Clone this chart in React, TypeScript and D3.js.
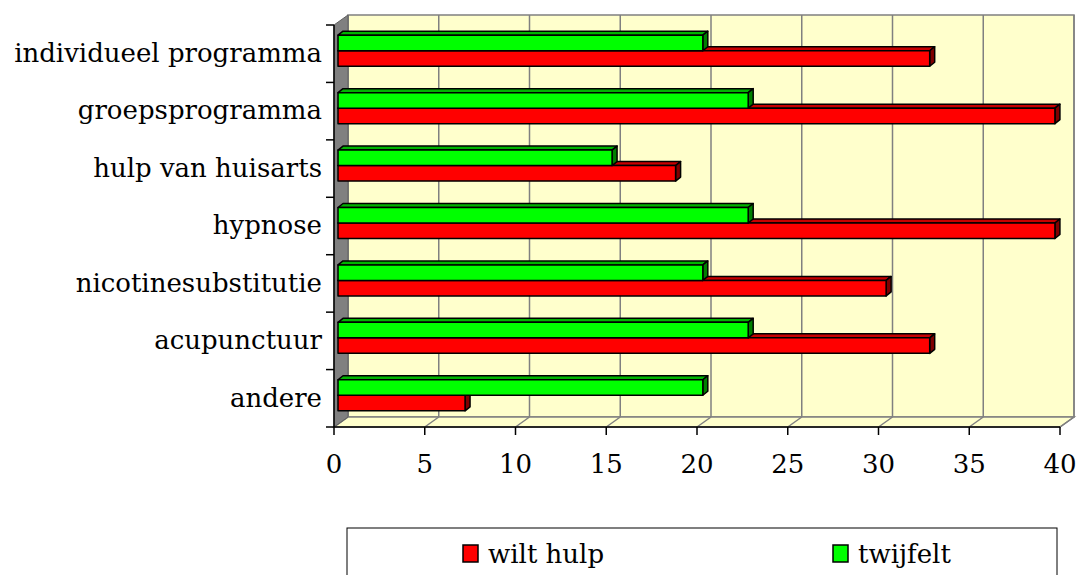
import React from 'react';
import {scaleLinear, scaleBand} from 'd3';

const categories = [
  'individueel programma',
  'groepsprogramma',
  'hulp van huisarts',
  'hypnose',
  'nicotinesubstitutie',
  'acupunctuur',
  'andere',
];
const wiltHulp = [32.6, 39.5, 18.6, 39.5, 30.2, 32.6, 7.0];
const twijfelt = [20.1, 22.6, 15.1, 22.6, 20.1, 22.6, 20.1];
const xTicks = [0, 5, 10, 15, 20, 25, 30, 35, 40];
const seriesNames = ['wilt hulp', 'twijfelt'];

const width = 1077;
const height = 575;
const font = '"DejaVu Serif", serif';
const fontSize = 26;

// front plane of the 3D box
const left = 334;
const right = 1060;
const top = 25;
const bottom = 427;
// wall depth
const wdx = 14;
const wdy = -10;
// bar offset into the box and bar depth
const bOffX = 4;
const bOffY = -3;
const bdx = 5;
const bdy = -4;

const colors = {
  red: {front: '#ff0000', top: '#c80000', side: '#800000'},
  green: {front: '#00ff00', top: '#00b400', side: '#008000'},
};

function Bar({x0, x1, y, h, c}) {
  const fx0 = x0 + bOffX;
  const fx1 = x1 + bOffX;
  const fy = y + bOffY;
  return (
    <g stroke="#000" strokeWidth={1.5} strokeLinejoin="round">
      <polygon
        points={`${fx0},${fy} ${fx0 + bdx},${fy + bdy} ${fx1 + bdx},${fy + bdy} ${fx1},${fy}`}
        fill={c.top}
      />
      <polygon
        points={`${fx1},${fy} ${fx1 + bdx},${fy + bdy} ${fx1 + bdx},${fy + h + bdy} ${fx1},${fy + h}`}
        fill={c.side}
      />
      <rect x={fx0} y={fy} width={fx1 - fx0} height={h} fill={c.front} />
    </g>
  );
}

export default function App() {
  const x = scaleLinear().domain([0, 40]).range([left, right]);
  const y = scaleBand().domain(categories).range([top, bottom]);
  const band = y.bandwidth();
  const barH = band * 0.27;
  const groupOff = (band - barH * 2) / 2;

  return (
    <svg
      width={width}
      height={height}
      style={{position: 'absolute', left: 0, top: 0, background: '#fff'}}
    >
      {/* back wall */}
      <rect
        x={left + wdx}
        y={top + wdy}
        width={right - left}
        height={bottom - top}
        fill="#ffffcc"
        stroke="#808080"
        strokeWidth={1.5}
      />
      {/* floor */}
      <polygon
        points={`${left},${bottom} ${left + wdx},${bottom + wdy} ${right + wdx},${bottom + wdy} ${right},${bottom}`}
        fill="#ffffcc"
        stroke="#808080"
        strokeWidth={1.5}
      />
      {/* gridlines */}
      {xTicks.map((t) => (
        <g key={t} stroke="#808080" strokeWidth={1.5}>
          <line x1={x(t) + wdx} x2={x(t) + wdx} y1={top + wdy} y2={bottom + wdy} />
          <line x1={x(t)} x2={x(t) + wdx} y1={bottom} y2={bottom + wdy} />
        </g>
      ))}
      {/* left wall */}
      <polygon
        points={`${left},${top} ${left + wdx},${top + wdy} ${left + wdx},${bottom + wdy} ${left},${bottom}`}
        fill="#808080"
        stroke="#606060"
        strokeWidth={1}
      />
      {/* bars */}
      {categories.map((cat, i) => {
        const y0 = y(cat) + groupOff;
        return (
          <g key={cat}>
            <Bar x0={x(0)} x1={x(wiltHulp[i])} y={y0 + barH} h={barH} c={colors.red} />
            <Bar x0={x(0)} x1={x(twijfelt[i])} y={y0} h={barH} c={colors.green} />
          </g>
        );
      })}
      {/* axes */}
      <line x1={left} x2={left} y1={top} y2={bottom} stroke="#000" strokeWidth={1.5} />
      <line x1={left} x2={right} y1={bottom} y2={bottom} stroke="#000" strokeWidth={1.5} />
      {[...categories.map((c) => y(c)), bottom].map((v, i) => (
        <line key={i} x1={left - 8} x2={left} y1={v} y2={v} stroke="#000" strokeWidth={1.5} />
      ))}
      {xTicks.map((t) => (
        <g key={t} transform={`translate(${x(t)},${bottom})`}>
          <line y1={0} y2={8} stroke="#000" strokeWidth={1.5} />
          <text y={46} textAnchor="middle" fontFamily={font} fontSize={fontSize} fill="#000">
            {t}
          </text>
        </g>
      ))}
      {categories.map((cat) => (
        <text
          key={cat}
          x={left - 12}
          y={y(cat) + band / 2}
          dy="0.32em"
          textAnchor="end"
          fontFamily={font}
          fontSize={fontSize}
          fill="#000"
        >
          {cat}
        </text>
      ))}
      {/* legend */}
      <rect x={347} y={528} width={710} height={60} fill="#fff" stroke="#000" strokeWidth={1} />
      {seriesNames.map((name, i) => {
        const lx = i === 0 ? 463 : 833;
        const c = i === 0 ? colors.red : colors.green;
        return (
          <g key={name}>
            <rect x={lx} y={545} width={15} height={17} fill={c.front} stroke="#000" strokeWidth={1.5} />
            <text x={lx + 25} y={563} fontFamily={font} fontSize={fontSize} fill="#000">
              {name}
            </text>
          </g>
        );
      })}
    </svg>
  );
}
